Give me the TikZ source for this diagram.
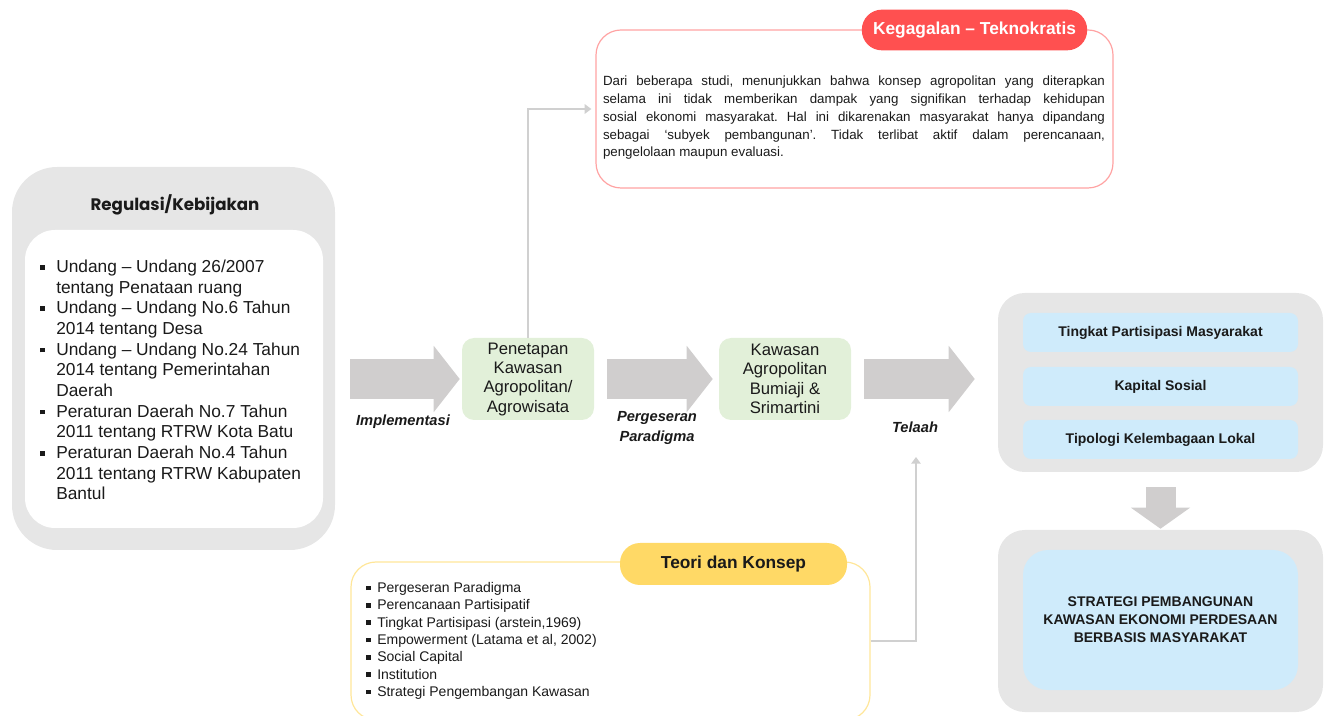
\documentclass[tikz,border=0pt]{standalone}
\usepackage{fontspec}
\setmainfont{Liberation Sans}
\newfontfamily\titlefont{Poppins}
\usetikzlibrary{arrows.meta,positioning}
\frenchspacing

\definecolor{boxgray}{HTML}{E6E6E6}
\definecolor{arrowgray}{HTML}{D0CECE}
\definecolor{linegray}{HTML}{D0D0D0}
\definecolor{leafgreen}{HTML}{E2F0D9}
\definecolor{skyblue}{HTML}{CFEBFB}
\definecolor{tagred}{HTML}{FF5050}
\definecolor{rimred}{HTML}{FFA3A3}
\definecolor{tagyellow}{HTML}{FFD966}
\definecolor{rimyellow}{HTML}{FFE699}
\definecolor{inkgray}{HTML}{1A1A1A}

% square bullet, optional indent
\newcommand{\sqbullet}[2][12pt]{\makebox[#1][l]{\rule[#2]{3.4pt}{3.4pt}}}

\begin{document}
\begin{tikzpicture}[x=0.75pt,y=-0.75pt,
    outerbox/.style={fill=boxgray, rounded corners=20pt, minimum width=243.75pt},
    greenbox/.style={fill=leafgreen, rounded corners=9pt, minimum width=99pt,
      minimum height=61.5pt, align=center, text=inkgray, inner sep=0pt,
      font=\fontsize{12.5}{14.5}\selectfont},
    bluebox/.style={fill=skyblue, rounded corners=6pt, minimum width=206.25pt,
      minimum height=29.25pt, text=inkgray, font=\bfseries\fontsize{10.5}{13.5}\selectfont},
    tag/.style={rounded corners=15pt, minimum width=169pt, minimum height=30.5pt,
      font=\bfseries\fontsize{13}{15}\selectfont},
    lbl/.style={align=center, text=inkgray, font=\bfseries\itshape\fontsize{11}{14.5}\selectfont},
    blockarrow/.style={draw=arrowgray, line width=30pt, -{Triangle[width=48.75pt,length=19.5pt]}},
    conn/.style={draw=linegray, line width=2pt, -{Triangle[width=7pt,length=5pt]}}
  ]
  \useasboundingbox (0,0) rectangle (1329,716);
  \clip (0,0) rectangle (1329,716);

  % regulasi
  \node[outerbox, rounded corners=33.75pt, minimum width=242.25pt, minimum height=287.25pt] (regbox) at (173.5,358.5) {};
  \node[text=inkgray, font=\titlefont\bfseries\fontsize{12.5}{15}\selectfont] (regtitle) at (175,205) {Regulasi/Kebijakan};
  \node[fill=white, rounded corners=22.5pt, minimum width=223.5pt, minimum height=223.5pt] (reginner) at (174,379) {};
  \node[anchor=west, align=left, inner sep=0pt, text=inkgray, font=\fontsize{13}{15.5}\selectfont] (reglist) at (40,380) {%
    \sqbullet{2.2pt}Undang -- Undang 26/2007\\
    \hspace*{12pt}tentang Penataan ruang\\
    \sqbullet{2.2pt}Undang -- Undang No.6 Tahun\\
    \hspace*{12pt}2014 tentang Desa\\
    \sqbullet{2.2pt}Undang -- Undang No.24 Tahun\\
    \hspace*{12pt}2014 tentang Pemerintahan\\
    \hspace*{12pt}Daerah\\
    \sqbullet{2.2pt}Peraturan Daerah No.7 Tahun\\
    \hspace*{12pt}2011 tentang RTRW Kota Batu\\
    \sqbullet{2.2pt}Peraturan Daerah No.4 Tahun\\
    \hspace*{12pt}2011 tentang RTRW Kabupaten\\
    \hspace*{12pt}Bantul};

  % middle row
  \node[greenbox] (penetapan) at (528,379) {Penetapan\\Kawasan\\Agropolitan/\\Agrowisata};
  \node[greenbox] (kawasan) at (785,379) {Kawasan\\Agropolitan\\Bumiaji \&\\Srimartini};

  \node[lbl] (implementasi) at (403,422) {Implementasi};
  \node[lbl] (pergeseran) at (657,428) {Pergeseran\\Paradigma};
  \node[lbl] (telaah) at (915,427) {Telaah};

  % right column
  \node[outerbox, minimum height=134.25pt] (factors) at (1160.5,382.5) {};
  \node[bluebox] (partisipasi) at (1160.5,332.5) {Tingkat Partisipasi Masyarakat};
  \node[bluebox] (kapital) at (1160.5,386.5) {Kapital Sosial};
  \node[bluebox] (tipologi) at (1160.5,439.5) {Tipologi Kelembagaan Lokal};

  \node[outerbox, minimum height=136.5pt] (stratbox) at (1160.5,621) {};
  \node[bluebox, rounded corners=18.75pt, minimum height=105pt, align=center,
    font=\bfseries\fontsize{10.5}{13.5}\selectfont] (strategi) at (1160.5,620)
    {STRATEGI PEMBANGUNAN\\KAWASAN EKONOMI PERDESAAN\\BERBASIS MASYARAKAT};

  % block arrows
  \draw[blockarrow, shorten <=11.25pt, shorten >=1.5pt] (regbox.east |- penetapan.west) -- (penetapan.west);
  \draw[blockarrow, shorten <=9.75pt, shorten >=4.5pt] (penetapan.east) -- (kawasan.west);
  \draw[blockarrow, shorten <=9.75pt, shorten >=17.25pt] (kawasan.east) -- (kawasan.east -| factors.west);
  \draw[draw=arrowgray, line width=22.5pt, -{Triangle[width=43.5pt,length=15.75pt]},
    shorten <=11.25pt, shorten >=0.75pt] (factors.south) -- (stratbox.north);

  % kegagalan
  \node[draw=rimred, line width=0.9pt, rounded corners=18.75pt, minimum width=387.75pt, minimum height=118.5pt] (failbox) at (854.5,109) {};
  \node[tag, fill=tagred, text=white] (failtag) at (974.5,30) {Kegagalan -- Teknokratis};
  \node[text width=376.5pt, align=justify, inner sep=0pt, text=inkgray, font=\fontsize{10}{13.3}\selectfont] (failtext) at (854,118) {%
    Dari beberapa studi, menunjukkan bahwa konsep agropolitan yang diterapkan\linebreak
    selama ini tidak memberikan dampak yang signifikan terhadap kehidupan\linebreak
    sosial ekonomi masyarakat. Hal ini dikarenakan masyarakat hanya dipandang\linebreak
    sebagai `subyek pembangunan'. Tidak terlibat aktif dalam perencanaan,\linebreak
    pengelolaan maupun evaluasi.};
  \draw[conn, shorten >=3pt] (penetapan.north) |- (failbox.west);

  % teori
  \node[draw=rimyellow, line width=0.9pt, rounded corners=18.75pt, minimum width=389.25pt, minimum height=118.5pt] (theory) at (610.5,641) {};
  \node[tag, fill=tagyellow, text=inkgray, minimum width=170.25pt, minimum height=31.5pt] (theorytag) at (733.5,564) {Teori dan Konsep};
  \node[anchor=west, align=left, inner sep=0pt, text=inkgray, font=\fontsize{10.5}{13}\selectfont] (theorylist) at (366,641) {%
    \sqbullet[8.25pt]{1.8pt}Pergeseran Paradigma\\
    \sqbullet[8.25pt]{1.8pt}Perencanaan Partisipatif\\
    \sqbullet[8.25pt]{1.8pt}Tingkat Partisipasi (arstein,1969)\\
    \sqbullet[8.25pt]{1.8pt}Empowerment (Latama et al, 2002)\\
    \sqbullet[8.25pt]{1.8pt}Social Capital\\
    \sqbullet[8.25pt]{1.8pt}Institution\\
    \sqbullet[8.25pt]{1.8pt}Strategi Pengembangan Kawasan};
  \coordinate (telaahin) at (916,457);
  \draw[conn] (theory.east) -| (telaahin);
\end{tikzpicture}
\end{document}
